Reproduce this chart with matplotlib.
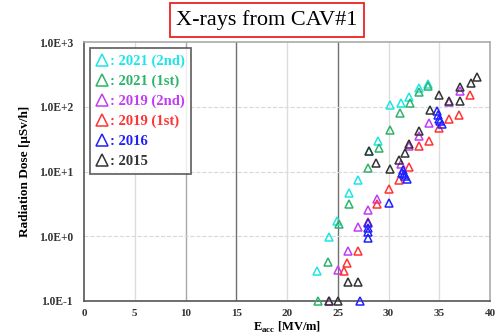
import matplotlib
matplotlib.use('Agg')
import matplotlib.pyplot as plt

plt.rcParams['font.family'] = ['Liberation Serif', 'DejaVu Serif']
plt.rcParams['mathtext.fontset'] = 'custom'
plt.rcParams['mathtext.rm'] = 'Liberation Serif:bold'
plt.rcParams['mathtext.bf'] = 'Liberation Serif:bold'

# Eacc [MV/m] / dose [uSv/h]
x_2021b = [23.0, 24.1, 24.9, 26.1, 27.0, 28.1, 29.0, 30.1, 31.2, 32.0, 33.0, 33.9]
y_2021b = [0.29, 0.97, 1.75, 4.6, 7.4, 20.4, 30, 105, 116, 141, 194, 226]

x_2021a = [23.1, 24.0, 25.1, 26.1, 28.0, 29.1, 30.1, 31.1, 32.1, 33.0, 33.9]
y_2021a = [0.1, 0.40, 1.56, 3.2, 11.5, 23, 44, 80, 114, 168, 212]

x_2019b = [24.1, 25.0, 26.0, 27.0, 28.0, 28.9, 31.2, 32.0, 33.0, 34.0, 36.0, 37.0]
y_2019b = [0.1, 0.30, 0.60, 1.4, 2.5, 3.75, 13, 25, 36, 56, 120, 175]

x_2019a = [25.6, 25.9, 27.0, 28.0, 28.9, 30.0, 31.0, 32.0, 33.0, 34.0, 35.0, 36.0, 36.9, 38.0]
y_2019a = [0.29, 0.39, 0.60, 1.65, 3.1, 5.3, 7.3, 11.7, 25, 30, 47, 65, 75, 150]

x_2016 = [27.2, 28.0, 28.0, 28.0, 28.0, 30.0, 31.3, 31.4, 31.5, 31.6, 31.8,
          34.8, 34.9, 35.0, 35.1, 35.3]
y_2016 = [0.1, 0.95, 1.15, 1.35, 1.6, 3.3, 9.5, 10.5, 9.0, 8.5, 7.8,
          85, 75, 65, 60, 55]

x_2015 = [24.1, 25.0, 26.0, 27.0, 28.1, 28.8, 30.1, 31.0, 31.6, 32.0, 33.0,
          34.1, 35.0, 36.0, 37.0, 37.0, 38.1, 38.7]
y_2015 = [0.1, 0.1, 0.2, 0.2, 20.4, 13.5, 10.9, 14.8, 19.6, 27, 42,
          90, 152, 124, 124, 205, 237, 292]

labels = ['2021 (2nd)', '2021 (1st)', '2019 (2nd)', '2019 (1st)', '2016', '2015']
colors = ['#1ee6e6', '#2eb36b', '#c23cf5', '#ff3333', '#2020ff', '#333333']
xs = [x_2021b, x_2021a, x_2019b, x_2019a, x_2016, x_2015]
ys = [y_2021b, y_2021a, y_2019b, y_2019a, y_2016, y_2015]

fig = plt.figure(figsize=(5, 3.35), dpi=100)
ax = fig.add_axes([0.168, 0.1015, 0.812, 0.773])

for xv, yv, c, lab in zip(xs, ys, colors, labels):
    ax.plot(xv, yv, ls='none', marker='^', ms=5.3, mfc='none', mec=c,
            mew=1.1, label=': ' + lab, clip_on=False, zorder=3)

ax.set_yscale('log')
ax.set_xlim(0, 40)
ax.set_ylim(0.1, 1000)
ax.set_xticks(range(0, 41, 5))
ax.set_yticks([0.1, 1, 10, 100, 1000])
ax.set_yticklabels(['1.0E-1', '1.0E+0', '1.0E+1', '1.0E+2', '1.0E+3'])
ax.minorticks_off()
ax.tick_params(axis='x', length=0, labelsize=8, pad=6)
ax.tick_params(axis='y', length=0, labelsize=8.3, pad=8)
for t in ax.get_xticklabels() + ax.get_yticklabels():
    t.set_fontweight('bold')
    t.set_color('#333333')

for v in range(5, 40, 5):
    col = {10: '#a8a8a8', 15: '#707070', 25: '#707070'}.get(v, '#dcdcdc')
    ax.axvline(v, color=col, lw=1, zorder=1)
for v in [1, 10, 100]:
    ax.axhline(v, color='#d8d8d8', lw=0.8, ls='--', zorder=1)

for s in ax.spines.values():
    s.set_color('#555555')
    s.set_linewidth(1.2)
ax.spines['right'].set_color('#aaaaaa')
ax.spines['top'].set_color('#aaaaaa')

ax.set_ylabel('Radiation Dose [μSv/h]', fontsize=9.5, fontweight='bold')
ax.yaxis.set_label_coords(-0.13, 0.5)
ax.set_xlabel(r'E$_{\mathbf{acc}}$ [MV/m]', fontsize=9, fontweight='bold')
ax.xaxis.set_label_coords(0.5, -0.072)

leg = ax.legend(loc='upper left', bbox_to_anchor=(0.004, 0.992), handlelength=0.9,
                handletextpad=0.1, labelspacing=0.46, borderpad=0.4,
                borderaxespad=0.3, markerscale=1.5,
                frameon=True, fancybox=False, prop={'weight': 'bold', 'size': 10.5})
leg.get_frame().set_edgecolor('#444444')
leg.get_frame().set_linewidth(1.3)
for txt, c in zip(leg.get_texts(), colors):
    txt.set_color(c)

fig.text(0.534, 0.94, 'X-rays from CAV#1', ha='center', va='center', fontsize=16,
         bbox=dict(boxstyle='square,pad=0.3', fc='white', ec='#ee2222', lw=1.3))

fig.savefig('out.png', dpi=100)
